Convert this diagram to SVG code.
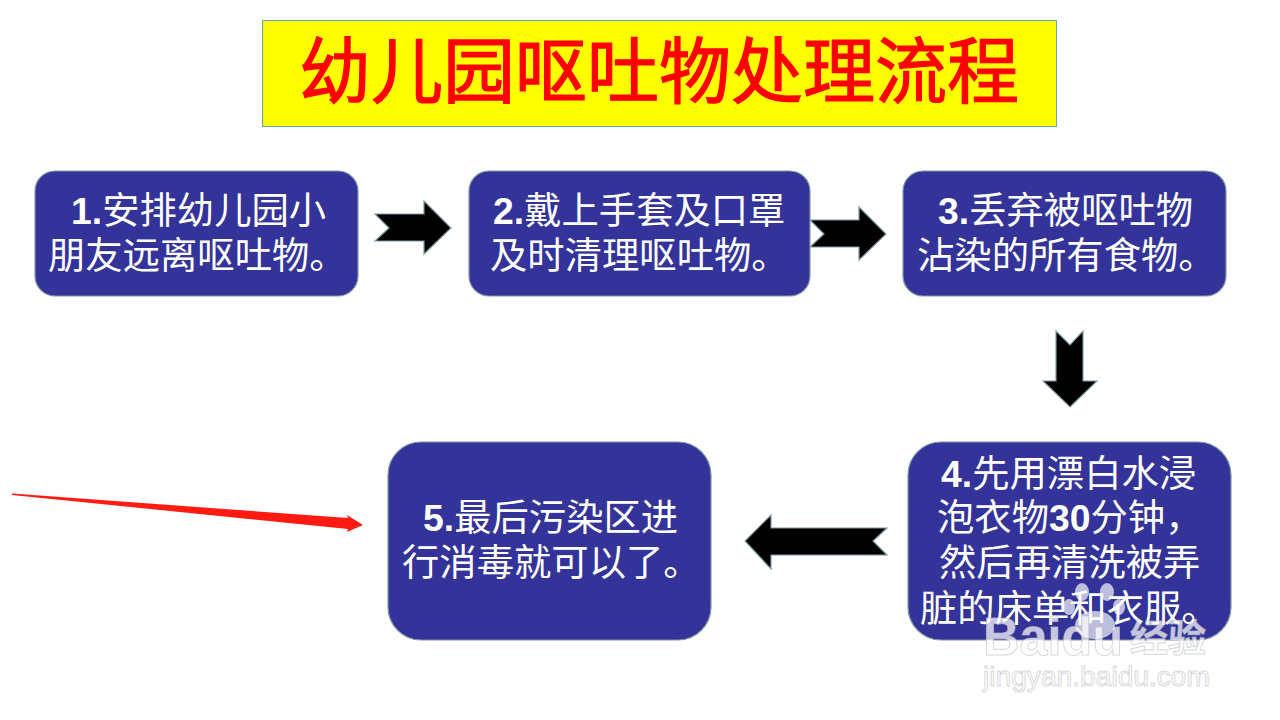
<svg xmlns="http://www.w3.org/2000/svg" width="1280" height="720" viewBox="0 0 1280 720">
<style>
.box{fill:#333399;stroke:#7f9aa3;stroke-width:1.2}
.arr{fill:#000;stroke:#7f9aa3;stroke-width:1.2}
.t{fill:#fff;font-family:"Liberation Sans","Noto Sans CJK SC",sans-serif;font-size:37.330px}
.n{font-weight:bold}
.wm{fill:#fff;fill-opacity:.72;stroke:#bdbdbd;stroke-opacity:.6;stroke-width:1;font-family:"Liberation Sans","Noto Sans CJK SC",sans-serif}
.paw{fill:#fff;fill-opacity:.68}
</style>
<rect width="1280" height="720" fill="#fff"/>
<g id="title">
<rect x="262.500" y="20.500" width="794" height="106" fill="#ffff00" stroke="#6f9fc0" stroke-width="1"/>
<text x="299" y="97" font-family="'Noto Sans CJK SC',sans-serif" font-size="72" font-weight="400" fill="#ff0000" stroke="#ff0000" stroke-width="1.200">幼儿园呕吐物处理流程</text>
</g>
<g id="connectors">
<polygon class="arr" points="375,214 424,214 424,201 451,228 424,254 424,241 375,241 389,228"/>
<polygon class="arr" points="810,220 859,220 859,207 886,234 859,260 859,247 810,247 824,234"/>
<polygon class="arr" points="1056,331 1070,345 1083,331 1083,381 1097,381 1070,407 1043,381 1056,381"/>
<polygon class="arr" points="887,528 873,541 887,555 771,555 771,569 745,541 771,515 771,528"/>
</g>
<g id="node1">
<rect class="box" x="35" y="171" width="323" height="125" rx="20"/>
<text class="t" x="71" y="224"><tspan class="n">1.</tspan>安排幼儿园小</text>
<text class="t" x="48" y="269">朋友远离呕吐物。</text>
</g>
<g id="node2">
<rect class="box" x="469" y="171" width="341" height="125" rx="20"/>
<text class="t" x="493" y="224"><tspan class="n">2.</tspan>戴上手套及口罩</text>
<text class="t" x="490" y="269">及时清理呕吐物。</text>
</g>
<g id="node3">
<rect class="box" x="903" y="171" width="323" height="125" rx="20"/>
<text class="t" x="938" y="224"><tspan class="n">3.</tspan>丢弃被呕吐物</text>
<text class="t" x="917" y="269">沾染的所有食物。</text>
</g>
<g id="node4">
<rect class="box" x="908" y="442" width="323" height="198" rx="33"/>
<text class="t" x="941" y="487"><tspan class="n">4.</tspan>先用漂白水浸</text>
<text class="t" x="937" y="531">泡衣物<tspan class="n">30</tspan>分钟，</text>
<text class="t" x="939" y="576">然后再清洗被弄</text>
<text class="t" x="920" y="622">脏的床单和衣服。</text>
</g>
<g id="node5">
<rect class="box" x="388" y="442" width="323" height="198" rx="33"/>
<text class="t" x="423" y="531"><tspan class="n">5.</tspan>最后污染区进</text>
<text class="t" x="402" y="576">行消毒就可以了。</text>
</g>
<g id="red-arrow">
<polygon points="12,493.500 12,495 348,529 347,532 363,525 347,515 348,518" fill="#ff1a12"/>
</g>
<g id="watermark">
<ellipse class="paw" cx="1069" cy="607" rx="6" ry="8"/>
<ellipse class="paw" cx="1082" cy="592" rx="7" ry="9"/>
<ellipse class="paw" cx="1107" cy="592" rx="7" ry="9"/>
<ellipse class="paw" cx="1119" cy="607" rx="6" ry="8"/>
<ellipse class="paw" cx="1095" cy="625" rx="20" ry="14"/>
<text class="wm" x="983" y="655" font-size="53" font-weight="bold" textLength="140" lengthAdjust="spacingAndGlyphs">Baidu</text>
<text class="wm" x="1130" y="651" font-size="38" font-weight="bold">经验</text>
<text class="wm" x="983" y="686" font-size="28" textLength="227" lengthAdjust="spacingAndGlyphs">jingyan.baidu.com</text>
</g>
</svg>
